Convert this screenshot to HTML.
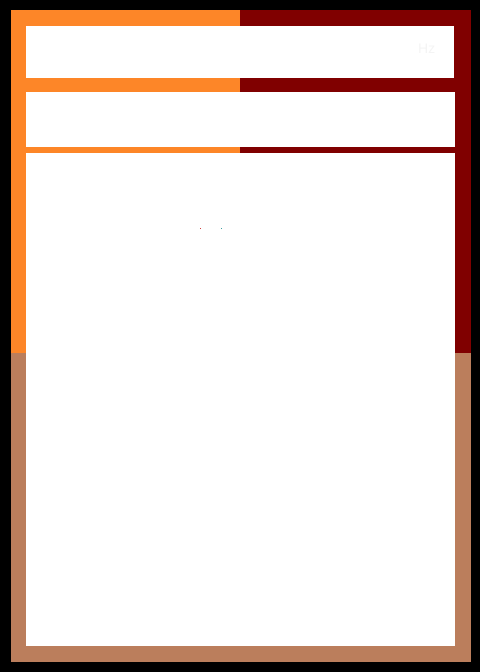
<!DOCTYPE html>
<html><head><meta charset="utf-8"><style>
html,body{margin:0;padding:0;}
body{width:480px;height:672px;background:#000;position:relative;overflow:hidden;font-family:"Liberation Sans",sans-serif;}
div{position:absolute;}
</style></head><body>
<div style="left:11px;top:10px;width:229px;height:343px;background:#fd8628;"></div>
<div style="left:240px;top:10px;width:231px;height:343px;background:#800000;"></div>
<div style="left:11px;top:353px;width:460px;height:309px;background:#bb7e5c;"></div>
<div style="left:26px;top:26px;width:428px;height:52px;background:#fff;">
<span style="position:absolute;left:392px;top:14px;font-size:14px;color:#f4f4f4;">Hz</span></div>
<div style="left:26px;top:92px;width:429px;height:55px;background:#fff;"></div>
<div style="left:26px;top:153px;width:429px;height:493px;background:#fff;">
<div style="left:174px;top:75px;width:1px;height:1px;background:#d04040;"></div>
<div style="left:195px;top:75px;width:1px;height:1px;background:#40a0a0;"></div>
</div>
</body></html>
